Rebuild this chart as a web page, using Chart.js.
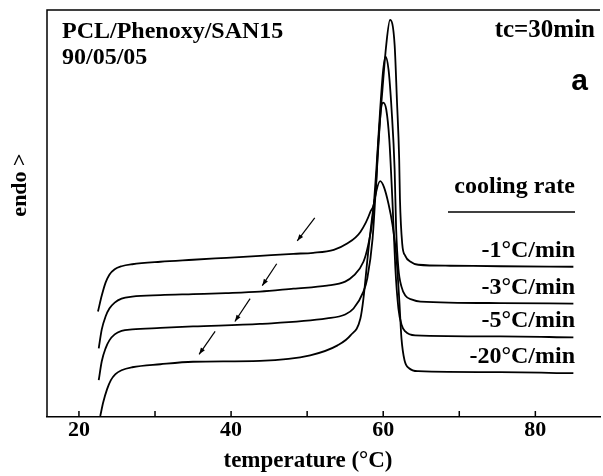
<!DOCTYPE html>
<html lang="en">
<head>
    <meta charset="UTF-8">
    <title>PCL/Phenoxy/SAN15 DSC</title>
    <script src="https://cdn.jsdelivr.net/npm/chart.js"></script>
    <style>
        body {
            margin: 0;
            background: #fff;
        }
        canvas {
            display: block;
        }
    </style>
</head>
<body>
    <canvas id="dscChart" width="603" height="476"></canvas>
    <script>
        // Temperature ticks (°C)
        const xTicks = [20, 30, 40, 50, 60, 70, 80];
        const xLabels = [20, 40, 60, 80];

        // Cooling rates (series names)
        const rates = ['-1°C/min', '-3°C/min', '-5°C/min', '-20°C/min'];

        // Curves: temperature and heat flow (arbitrary units, endo up)
        const tRate1 = [22.5, 23.0, 23.5, 24.0, 24.7, 25.6, 27.0, 30.7, 35.0, 39.4, 43.8, 48.2, 50.8, 53.5, 55.2, 57.0, 58.3, 59.0, 59.3, 59.9, 60.4, 60.9, 61.5, 61.8, 62.1, 62.2, 62.5, 62.9, 63.6, 64.6, 68.8, 75.4, 85.0];
        const hRate1 = [106, 122, 135, 143, 148.5, 151.5, 153.5, 156, 158, 160, 162, 164, 165, 168, 174, 186, 206, 226, 269, 329, 374, 399, 374, 319, 259, 219, 174, 162, 156, 153, 152, 151.5, 151];

        const tRate3 = [22.6, 23.0, 23.5, 24.0, 24.7, 25.6, 27.0, 30.7, 35.0, 39.3, 43.8, 48.2, 52.6, 55.0, 56.1, 57.4, 58.0, 58.6, 59.1, 59.6, 60.0, 60.3, 60.7, 61.1, 61.5, 61.7, 62.0, 62.4, 62.9, 63.8, 64.9, 75.4, 85.0];
        const hRate3 = [69, 88, 101, 109, 115, 119, 121, 122.5, 123.5, 124.5, 126, 129, 132, 136, 142, 156, 172, 199, 249, 309, 349, 362, 349, 309, 249, 189, 149, 131, 122, 118, 116, 114.5, 114];

        const tRate5 = [22.6, 23.0, 23.5, 24.0, 24.7, 25.6, 27.0, 30.7, 35.0, 43.8, 52.6, 55.0, 56.1, 57.4, 57.9, 58.6, 59.1, 59.5, 59.7, 60.0, 60.4, 60.8, 61.2, 61.6, 62.0, 62.4, 62.9, 64.2, 75.4, 85.0];
        const hRate5 = [37, 56, 69, 77, 83, 86.5, 88, 89.5, 91, 93.5, 99, 103, 109, 126, 139, 179, 239, 289, 309, 316, 309, 279, 219, 149, 109, 93, 86, 82, 81, 80];

        const tRate20 = [22.8, 23.2, 23.7, 24.2, 24.8, 25.6, 27.0, 30.7, 35.0, 43.8, 50.4, 54.0, 55.7, 57.0, 57.4, 58.0, 58.6, 59.1, 59.6, 60.1, 60.7, 61.2, 61.7, 62.1, 62.4, 62.8, 63.4, 64.6, 75.4, 85.0];
        const hRate20 = [1, 15, 28, 37, 43, 47, 50, 53, 55.5, 56.5, 62, 72, 82, 99, 119, 164, 204, 227, 237, 231, 214, 194, 164, 119, 79, 57, 49, 46, 45, 44];

        // Arrows marking the glass transition: [temperature, heat flow] tail -> head
        const arrowTails = [[51.0, 200], [46.0, 154], [42.5, 119], [37.9, 86]];
        const arrowHeads = [[48.7, 177], [44.1, 132], [40.5, 96], [35.8, 63]];

        const curves = [[tRate1, hRate1], [tRate3, hRate3], [tRate5, hRate5], [tRate20, hRate20]];

        const serif = '"Liberation Serif", "Times New Roman", serif';

        // Frame, inward tick marks, arrows and text notes
        const decor = {
            id: 'decor',
            afterDraw(chart) {
                const { ctx, chartArea: a, scales: { x, y } } = chart;
                ctx.save();
                ctx.strokeStyle = '#000';
                ctx.fillStyle = '#000';
                ctx.lineWidth = 1.5;

                ctx.beginPath();
                ctx.moveTo(a.left, a.bottom);
                ctx.lineTo(a.left, a.top);
                ctx.lineTo(a.right, a.top);
                xTicks.forEach(v => {
                    const px = x.getPixelForValue(v);
                    ctx.moveTo(px, a.bottom);
                    ctx.lineTo(px, a.bottom - 6);
                });
                ctx.stroke();

                // arrows
                ctx.lineWidth = 1.2;
                arrowTails.forEach((t, i) => {
                    const x0 = x.getPixelForValue(t[0]), y0 = y.getPixelForValue(t[1]);
                    const x1 = x.getPixelForValue(arrowHeads[i][0]), y1 = y.getPixelForValue(arrowHeads[i][1]);
                    const ang = Math.atan2(y1 - y0, x1 - x0);
                    ctx.beginPath();
                    ctx.moveTo(x0, y0);
                    ctx.lineTo(x1, y1);
                    ctx.stroke();
                    ctx.beginPath();
                    ctx.moveTo(x1, y1);
                    ctx.lineTo(x1 - 7 * Math.cos(ang - 0.35), y1 - 7 * Math.sin(ang - 0.35));
                    ctx.lineTo(x1 - 7 * Math.cos(ang + 0.35), y1 - 7 * Math.sin(ang + 0.35));
                    ctx.closePath();
                    ctx.fill();
                });

                // text
                ctx.font = 'bold 24px ' + serif;
                ctx.textAlign = 'left';
                ctx.textBaseline = 'alphabetic';
                ctx.fillText('PCL/Phenoxy/SAN15', 62, 38);
                ctx.fillText('90/05/05', 62, 64);
                ctx.textAlign = 'right';
                ctx.fillText('cooling rate', 575, 193);

                ctx.beginPath();
                ctx.lineWidth = 1.5;
                ctx.moveTo(448, 212);
                ctx.lineTo(575, 212);
                ctx.stroke();

                curves.forEach((c, i) => {
                    const last = c[1][c[1].length - 1];
                    ctx.fillText(rates[i], 575, y.getPixelForValue(last) - 10);
                });

                ctx.font = 'bold 25px ' + serif;
                ctx.fillText('tc=30min', 595, 37);

                ctx.textAlign = 'center';
                ctx.font = 'bold 23px ' + serif;
                ctx.fillText('temperature (°C)', 308, 467);

                ctx.textAlign = 'right';
                ctx.font = 'bold 30px "Liberation Sans", Arial, sans-serif';
                ctx.fillText('a', 588, 90);

                ctx.translate(26, 185);
                ctx.rotate(-Math.PI / 2);
                ctx.textAlign = 'center';
                ctx.font = 'bold 22px ' + serif;
                ctx.fillText('endo >', 0, 0);
                ctx.restore();
            }
        };

        const ctx = document.getElementById('dscChart').getContext('2d');
        new Chart(ctx, {
            type: 'line',
            data: {
                datasets: curves.map((c, i) => ({
                    label: rates[i],
                    data: c[0].map((t, j) => ({ x: t, y: c[1][j] })),
                    borderColor: '#000',
                    borderWidth: 1.8,
                    pointRadius: 0,
                    fill: false,
                    cubicInterpolationMode: 'monotone'
                }))
            },
            options: {
                responsive: false,
                animation: false,
                layout: { padding: { left: 47, top: 10, right: 3, bottom: 33 } },
                plugins: {
                    legend: { display: false },
                    tooltip: { enabled: false }
                },
                scales: {
                    x: {
                        type: 'linear',
                        min: 15.8,
                        max: 88.5,
                        afterBuildTicks: axis => {
                            axis.ticks = xTicks.map(v => ({ value: v }));
                        },
                        grid: { display: false, drawTicks: false },
                        border: { display: true, color: '#000', width: 1.5 },
                        ticks: {
                            autoSkip: false,
                            maxRotation: 0,
                            padding: 2,
                            color: '#000',
                            font: { family: serif, size: 22, weight: 'bold', lineHeight: 1 },
                            callback: v => xLabels.includes(v) ? String(v) : ''
                        }
                    },
                    y: {
                        display: false,
                        min: 0,
                        max: 409
                    }
                }
            },
            plugins: [decor]
        });
    </script>
</body>
</html>
